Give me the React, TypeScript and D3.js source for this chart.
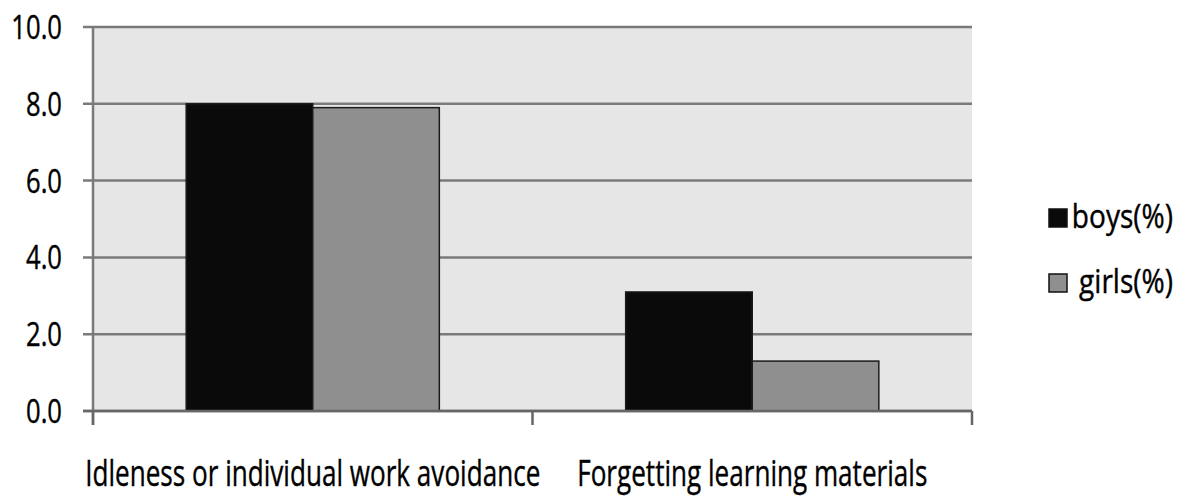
import React, { useEffect, useRef } from 'react';
import * as d3 from 'd3';

// categories and series
const categories = ['Idleness or individual work avoidance', 'Forgetting learning materials'];
const seriesNames = ['boys(%)', 'girls(%)'];
const boysValues = [8.0, 3.1];
const girlsValues = [7.9, 1.3];
const yTicks = [0, 2, 4, 6, 8, 10];
const seriesColors = ['#0a0a0a', '#8f8f8f'];

const W = 1178;
const H = 496;
const FONT = '"Open Sans", "Liberation Sans", sans-serif';
// the original font is a narrow Calibri-like face, so squeeze horizontally
const TICK_SQUEEZE = 0.8;
const LABEL_SQUEEZE = 0.725;
const LEGEND_SQUEEZE = 0.85;

const App: React.FC = () => {
  const svgRef = useRef<SVGSVGElement>(null);

  useEffect(() => {
    if (!svgRef.current) return;
    const svg = d3.select(svgRef.current);
    svg.selectAll('*').remove();

    const margin = { top: 27, right: 206, bottom: 85, left: 93 };
    const innerW = W - margin.left - margin.right;
    const innerH = H - margin.top - margin.bottom;

    const g = svg.append('g').attr('transform', `translate(${margin.left},${margin.top})`);

    const x0 = d3.scaleBand<string>().domain(categories).range([0, innerW]).padding(0);
    const gap = x0.bandwidth() * 0.212;
    const x1 = d3.scaleBand<string>().domain(seriesNames).range([gap, x0.bandwidth() - gap]).padding(0);
    const y = d3.scaleLinear().domain([0, 10]).range([innerH, 0]);

    // plot area background
    g.append('rect')
      .attr('x', 0)
      .attr('y', 0)
      .attr('width', innerW)
      .attr('height', innerH)
      .attr('fill', '#e6e6e6');

    // gridlines + y tick marks
    g.selectAll('line.grid')
      .data(yTicks)
      .enter()
      .append('line')
      .attr('class', 'grid')
      .attr('x1', -10)
      .attr('x2', innerW)
      .attr('y1', d => y(d))
      .attr('y2', d => y(d))
      .attr('stroke', '#7a7a7a')
      .attr('stroke-width', 2.5);

    // bars
    const rows = categories.map((c, i) => ({ cat: c, vals: [boysValues[i], girlsValues[i]] }));
    const grp = g.selectAll('g.cat')
      .data(rows)
      .enter()
      .append('g')
      .attr('class', 'cat')
      .attr('transform', d => `translate(${x0(d.cat)},0)`);

    grp.selectAll('rect')
      .data(d => d.vals.map((v, j) => ({ name: seriesNames[j], v, j })))
      .enter()
      .append('rect')
      .attr('x', d => x1(d.name)!)
      .attr('y', d => y(d.v))
      .attr('width', x1.bandwidth())
      .attr('height', d => innerH - y(d.v))
      .attr('fill', d => seriesColors[d.j])
      .attr('stroke', '#1a1a1a')
      .attr('stroke-width', 1.5);

    // y axis line
    g.append('line')
      .attr('x1', 0).attr('x2', 0)
      .attr('y1', 0).attr('y2', innerH + 14)
      .attr('stroke', '#7a7a7a')
      .attr('stroke-width', 2.5);

    // x axis baseline and category ticks
    g.append('line')
      .attr('x1', -10).attr('x2', innerW)
      .attr('y1', innerH).attr('y2', innerH)
      .attr('stroke', '#666')
      .attr('stroke-width', 2.5);

    const xTickPos = [0, ...categories.map(c => x0(c)! + x0.bandwidth())];
    g.selectAll('line.xtick')
      .data(xTickPos)
      .enter()
      .append('line')
      .attr('class', 'xtick')
      .attr('x1', d => d).attr('x2', d => d)
      .attr('y1', innerH).attr('y2', innerH + 14)
      .attr('stroke', '#666')
      .attr('stroke-width', 2.5);

    // y tick labels
    g.selectAll('text.ylab')
      .data(yTicks)
      .enter()
      .append('text')
      .attr('class', 'ylab')
      .attr('transform', d => `translate(-31,${y(d) + 12}) scale(${TICK_SQUEEZE},1)`)
      .attr('text-anchor', 'end')
      .attr('font-family', FONT)
      .attr('font-size', 32)
      .attr('fill', '#000')
      .attr('stroke', '#000')
      .attr('stroke-width', 0.4)
      .text(d => d.toFixed(1));

    // category labels, centred under each band
    g.selectAll('text.xlab')
      .data(categories)
      .enter()
      .append('text')
      .attr('class', 'xlab')
      .attr('transform', d => `translate(${x0(d)! + x0.bandwidth() / 2},${innerH + 75}) scale(${LABEL_SQUEEZE},1)`)
      .attr('text-anchor', 'middle')
      .attr('font-family', FONT)
      .attr('font-size', 36)
      .attr('fill', '#000')
      .attr('stroke', '#000')
      .attr('stroke-width', 0.4)
      .text(d => d);

    // legend
    const legend = svg.append('g').attr('transform', 'translate(1049,209)');
    seriesNames.forEach((name, i) => {
      const row = legend.append('g').attr('transform', `translate(0,${i * 65})`);
      row.append('rect')
        .attr('width', 18)
        .attr('height', 18)
        .attr('fill', seriesColors[i])
        .attr('stroke', '#111')
        .attr('stroke-width', 1.5);
      row.append('text')
        .attr('transform', `translate(124,19) scale(${LEGEND_SQUEEZE},1)`)
        .attr('text-anchor', 'end')
        .attr('font-family', FONT)
        .attr('font-size', 33)
        .attr('fill', '#000')
        .attr('stroke', '#000')
        .attr('stroke-width', 0.4)
        .text(name);
    });
  }, []);

  return (
    <div style={{ width: W, height: H, background: '#fff' }}>
      <svg ref={svgRef} width={W} height={H} style={{ display: 'block', position: 'absolute', left: 0, top: 0 }} />
    </div>
  );
};

export default App;
